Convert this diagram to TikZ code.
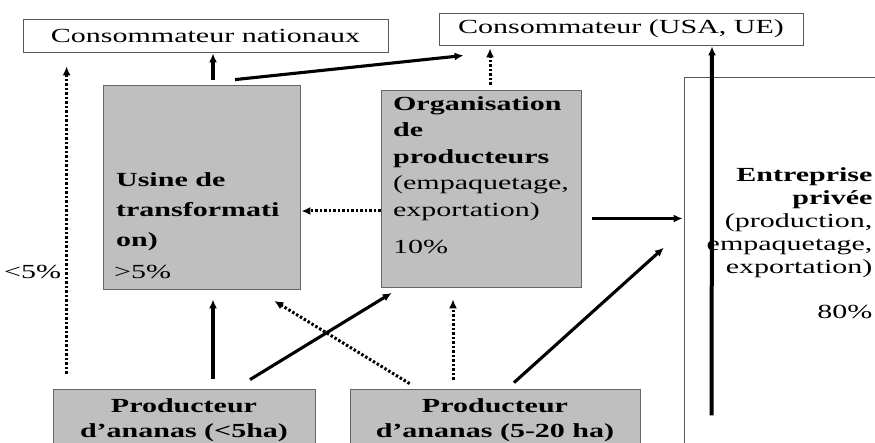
\documentclass[tikz,border=0pt]{standalone}
\usepackage{fontspec}
\setmainfont[FakeStretch=1.5]{Liberation Serif}
\usetikzlibrary{arrows.meta}

\begin{document}
\begin{tikzpicture}[x=1pt,y=-1pt,>={Latex[length=9pt,width=8pt]},line width=3.1pt,shorten >=1pt,
    font=\fontsize{20}{24}\selectfont,
    white node/.style={draw=black!65,line width=0.8pt,fill=white,inner sep=0pt},
    grey node/.style={draw=black!60,line width=0.8pt,fill=black!25,inner sep=0pt,align=center,font=\fontsize{20}{25}\selectfont\bfseries},
    txt node/.style={inner sep=0pt,align=left},
    dots/.style={line width=3pt,dash pattern=on 2.5pt off 2pt}]
    \useasboundingbox (0,0) rectangle (875,443);

    \node[white node, minimum width=365, minimum height=33] (0) at (205.5,35.5) {Consommateur nationaux};
    \node[white node, minimum width=364, minimum height=32] (1) at (621,29) {Consommateur (USA, UE)};
    \node[grey node, minimum width=197, minimum height=204] (2) at (201.5,187) {};
    \node[grey node, minimum width=200, minimum height=197] (3) at (481,188.5) {};
    \node[white node, minimum width=200, minimum height=368] (4) at (784,261) {};
    \node[grey node, minimum width=262, minimum height=62] (5) at (184,420) {Producteur\\d’ananas (<5ha)};
    \node[grey node, minimum width=290, minimum height=62] (6) at (495,420) {Producteur\\d’ananas (5-20 ha)};

    \node[txt node, anchor=west, font=\fontsize{20}{30}\selectfont\bfseries] (2a) [at = {(2.west)}, xshift = 12, yshift = -25] {Usine de\\transformati\\on)};
    \node[txt node, anchor=west] (2b) [at = {(2.west)}, xshift = 10, yshift = -85] {>5\%};
    \node[txt node, anchor=west, font=\fontsize{20}{26.5}\selectfont] (3a) [at = {(3.west)}, xshift = 11, yshift = 30] {\textbf{Organisation}\\\textbf{de}\\\textbf{producteurs}\\(empaquetage,\\exportation)};
    \node[txt node, anchor=west] (3b) [at = {(3.west)}, xshift = 11, yshift = -58.5] {10\%};
    \node[txt node, anchor=east, align=right, font=\fontsize{20}{23}\selectfont] (4a) at (874,222.5) {\textbf{Entreprise}\\\textbf{privée}\\(production,\\empaquetage,\\exportation)};
    \node[txt node, anchor=east] (4b) at (874,312) {80\%};
    \node[txt node, anchor=east] (x) [at = {(5.north west)}, xshift = 10, yshift = 117] {<5\%};

    \draw[->] ([xshift=11.5,yshift=5]2.north) -- ([xshift=7.5]0.south);
    \draw[->] ([xshift=33.5,yshift=5]2.north) -- ([xshift=26,yshift=-10]1.south west);
    \draw[->,dots] ([xshift=9,yshift=5]3.north) -- ([xshift=-131,yshift=-2]1.south);
    \draw[->,line width=4pt] ([xshift=28,yshift=30]4.south west) -- ([xshift=91]1.south);
    \draw[->,dots] ([xshift=14,yshift=15]5.north west) -- ([xshift=44,yshift=-13]0.south west);
    \draw[->,dots] ([yshift=-22.5]3.west) -- ([yshift=-24]2.east);
    \draw[->] ([xshift=11,yshift=-30]3.east) -- ([yshift=-30]3.east -| 4.west);
    \draw[->] ([xshift=29,yshift=10]5.north) -- ([xshift=11.5,yshift=-9]2.south);
    \draw[->] ([xshift=66,yshift=9]5.north) -- ([xshift=12,yshift=-5]3.south west);
    \draw[->,dots] ([xshift=60,yshift=5]6.north west) -- ([xshift=-27,yshift=-11]2.south east);
    \draw[->,dots] ([xshift=-42,yshift=9]6.north) -- ([xshift=-28,yshift=-11]3.south);
    \draw[->] ([xshift=19,yshift=6]6.north) -- ([xshift=-19,yshift=14]4.west);
\end{tikzpicture}
\end{document}
